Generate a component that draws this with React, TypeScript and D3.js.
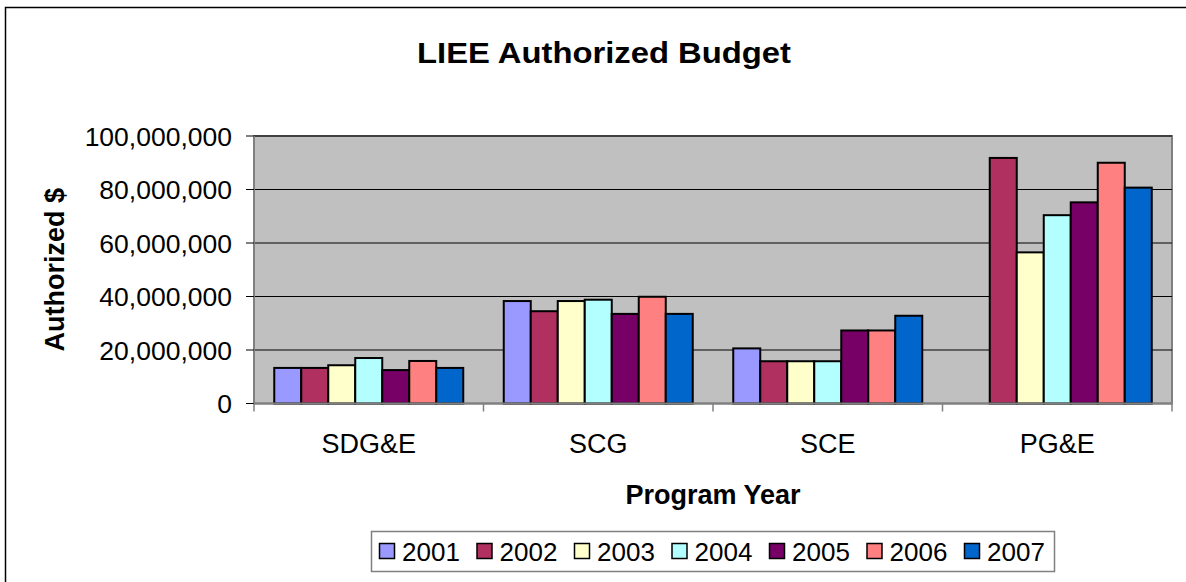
import React from "react";
import * as d3 from "d3";

const categories = ["SDG&E", "SCG", "SCE", "PG&E"];
const years = ["2001", "2002", "2003", "2004", "2005", "2006", "2007"];
const colors = ["#9999FF", "#B03060", "#FFFFCC", "#B3FFFF", "#770066", "#FF8080", "#0066CC"];
const v2001 = [13300000, 38300000, 20600000, 0];
const v2002 = [13300000, 34500000, 15800000, 91800000];
const v2003 = [14300000, 38300000, 15800000, 56500000];
const v2004 = [17000000, 38800000, 15800000, 70400000];
const v2005 = [12500000, 33500000, 27300000, 75200000];
const v2006 = [15900000, 39900000, 27300000, 90000000];
const v2007 = [13300000, 33500000, 32800000, 80700000];
const series = [v2001, v2002, v2003, v2004, v2005, v2006, v2007];
const yTicks = [0, 20000000, 40000000, 60000000, 80000000, 100000000];

const W = 1186, H = 582;
const PL = 254, PR = 1172, PT = 136, PB = 403.5;
const FONT = "'Liberation Sans', Arial, sans-serif";

export default function App() {
  const x0 = d3.scaleBand<string>().domain(categories).range([PL, PR]).paddingInner(0).paddingOuter(0);
  const bw = x0.bandwidth();
  const x1 = d3.scaleBand<string>().domain(years).range([0, bw]).paddingInner(0).paddingOuter(0.75);
  const y = d3.scaleLinear().domain([0, 100000000]).range([PB, PT]);
  const fmt = d3.format(",");
  const boundaries = [...categories.map((c) => x0(c) as number), PR];

  return (
    <svg width={W} height={H} style={{ position: "absolute", left: 0, top: 0, background: "#fff" }}>
      <rect x={5.5} y={7.5} width={1250} height={650} fill="#fff" stroke="#000" strokeWidth={1.5} />
      <text x={604} y={63} textAnchor="middle" fontFamily={FONT} fontWeight="bold" fontSize={29}
        textLength={374} lengthAdjust="spacingAndGlyphs">LIEE Authorized Budget</text>

      <rect x={PL} y={PT} width={PR - PL} height={PB - PT} fill="#C0C0C0" stroke="#808080" strokeWidth={2} />
      {yTicks.slice(1).map((t) => (
        <line key={"g" + t} x1={PL} x2={PR} y1={y(t)} y2={y(t)} stroke="#000" strokeWidth={1} />
      ))}

      {categories.map((c, ci) => (
        <g key={c} transform={`translate(${x0(c)},0)`}>
          {years.map((yr, si) => {
            const v = series[si][ci];
            if (!v) return null;
            return (
              <rect key={yr} x={x1(yr)} y={y(v)} width={x1.bandwidth()} height={PB - y(v)}
                fill={colors[si]} stroke="#000" strokeWidth={2} />
            );
          })}
        </g>
      ))}

      <line x1={PL} x2={PL} y1={PT} y2={PB} stroke="#808080" strokeWidth={2} />
      <line x1={PL} x2={PR} y1={PB} y2={PB} stroke="#808080" strokeWidth={2} />
      {yTicks.map((t) => (
        <g key={"t" + t}>
          <line x1={PL - 8} x2={PL} y1={y(t)} y2={y(t)} stroke="#000" strokeWidth={1} />
          <text x={232} y={y(t)} dy="0.36em" textAnchor="end" fontFamily={FONT} fontSize={26.5}>{fmt(t)}</text>
        </g>
      ))}
      {boundaries.map((b, i) => (
        <line key={"b" + i} x1={b} x2={b} y1={PB} y2={PB + 8} stroke="#808080" strokeWidth={1.5} />
      ))}
      {categories.map((c) => (
        <text key={"l" + c} x={(x0(c) as number) + bw / 2} y={453} textAnchor="middle" fontFamily={FONT} fontSize={27}>{c}</text>
      ))}
      <text x={(PL + PR) / 2} y={504} textAnchor="middle" fontFamily={FONT} fontWeight="bold" fontSize={27}>Program Year</text>
      <text transform={`translate(64,${(PT + PB) / 2}) rotate(-90)`} textAnchor="middle" fontFamily={FONT} fontWeight="bold" fontSize={27}>Authorized $</text>

      <rect x={371.5} y={531.5} width={683} height={40} fill="#fff" stroke="#808080" strokeWidth={1.5} />
      {years.map((yr, i) => (
        <g key={"lg" + yr} transform={`translate(${379 + i * 97.5},0)`}>
          <rect x={0.5} y={543.5} width={15} height={15} fill={colors[i]} stroke="#000" strokeWidth={1.5} />
          <text x={23} y={560.5} fontFamily={FONT} fontSize={26}>{yr}</text>
        </g>
      ))}
    </svg>
  );
}
